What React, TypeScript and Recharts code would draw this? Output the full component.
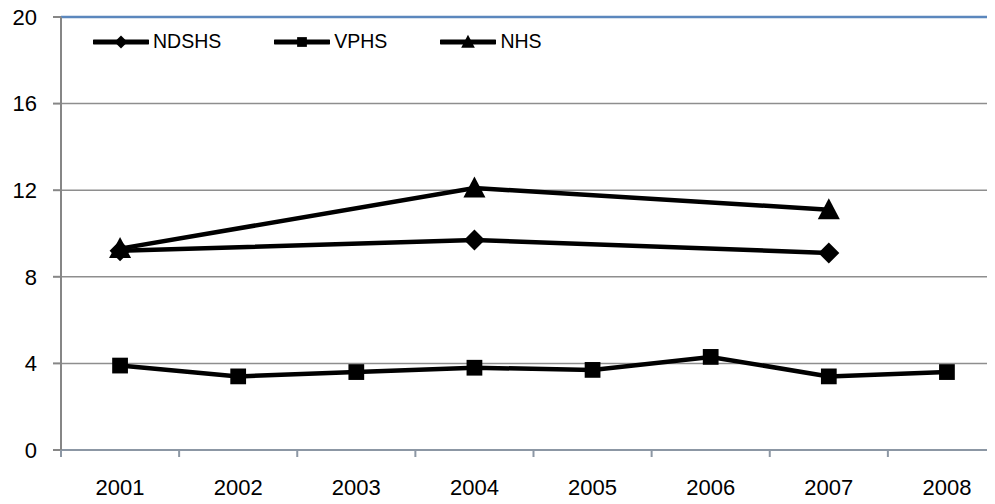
import { LineChart, Line, XAxis, YAxis, CartesianGrid, Legend, ReferenceLine } from "recharts";

const YEARS = ["2001", "2002", "2003", "2004", "2005", "2006", "2007", "2008"];
const NDSHS = [9.2, null, null, 9.7, null, null, 9.1, null];
const VPHS = [3.9, 3.4, 3.6, 3.8, 3.7, 4.3, 3.4, 3.6];
const NHS = [9.3, null, null, 12.1, null, null, 11.1, null];
const Y_TICKS = [0, 4, 8, 12, 16, 20];

const SERIES = [
  { key: "NDSHS", shape: "diamond" },
  { key: "VPHS", shape: "square" },
  { key: "NHS", shape: "triangle" },
];

const data = YEARS.map((year, i) => ({
  year,
  NDSHS: NDSHS[i],
  VPHS: VPHS[i],
  NHS: NHS[i],
}));

const W = 1010;
const H = 504;
const M = { top: 17, right: 4, bottom: 14, left: 0 };
const Y_W = 61;
const BAND = (W - M.right - Y_W) / YEARS.length;
const FONT = "'Liberation Sans', Arial, sans-serif";

const marker = (shape: string, cx: number, cy: number, s: number) => {
  if (shape === "diamond")
    return <polygon points={`${cx},${cy - s} ${cx + s},${cy} ${cx},${cy + s} ${cx - s},${cy}`} fill="#000" />;
  if (shape === "square")
    return <rect x={cx - s * 0.75} y={cy - s * 0.75} width={s * 1.5} height={s * 1.5} fill="#000" />;
  return <polygon points={`${cx},${cy - s * 1.1} ${cx + s * 1.05},${cy + s * 0.9} ${cx - s * 1.05},${cy + s * 0.9}`} fill="#000" />;
};

const makeDot = (shape: string) => (props: any) => {
  const { cx, cy, value, index } = props;
  if (value == null || cx == null || cy == null) return <g key={index} />;
  return <g key={index}>{marker(shape, cx, cy, 10.5)}</g>;
};

const XTick = (props: any) => {
  const { x, y, payload } = props;
  const left = x - BAND / 2;
  return (
    <g>
      <line x1={left} x2={left} y1={y} y2={y + 7} stroke="#8C97A4" strokeWidth={2} />
      <text x={x} y={y + 45} textAnchor="middle" fill="#000" fontSize={22} fontFamily={FONT}>
        {payload.value}
      </text>
    </g>
  );
};

const LegendBox = () => (
  <div style={{ display: "flex", alignItems: "center", fontFamily: FONT, fontSize: 19.5, color: "#000" }}>
    {SERIES.map((s) => (
      <div key={s.key} style={{ display: "flex", alignItems: "center", marginRight: 53 }}>
        <svg width={56} height={20}>
          <line x1={1} x2={55} y1={10} y2={10} stroke="#000" strokeWidth={5} strokeLinecap="round" />
          {marker(s.shape, 28, 10, 6.5)}
        </svg>
        <span style={{ marginLeft: 4 }}>{s.key}</span>
      </div>
    ))}
  </div>
);

export default function App() {
  return (
    <div style={{ margin: -8, width: 995, height: 504, overflow: "hidden", position: "relative", background: "#fff" }}>
      <style>{`html,body{overflow:hidden}`}</style>
      <LineChart width={W} height={H} data={data} margin={M}>
        <CartesianGrid horizontal vertical={false} stroke="#8E8E8E" strokeWidth={1.5} />
        <XAxis
          dataKey="year"
          scale="band"
          interval={0}
          tickLine={false}
          tickSize={0}
          tickMargin={0}
          height={40}
          axisLine={{ stroke: "#8C97A4", strokeWidth: 2 }}
          tick={<XTick />}
        />
        <YAxis
          domain={[0, 20]}
          ticks={Y_TICKS}
          width={Y_W}
          tickSize={8}
          tickMargin={16}
          axisLine={{ stroke: "#868686", strokeWidth: 2 }}
          tickLine={{ stroke: "#868686", strokeWidth: 2 }}
          tick={{ fill: "#000", fontSize: 22, fontFamily: FONT }}
        />
        <ReferenceLine y={20} stroke="#5B87BD" strokeWidth={2.5} />
        <Legend
          layout="horizontal"
          verticalAlign="middle"
          align="center"
          content={<LegendBox />}
          wrapperStyle={{ top: 30, left: 93, width: 600 }}
        />
        <Line dataKey="NDSHS" stroke="#000" strokeWidth={4.5} connectNulls dot={makeDot("diamond")} isAnimationActive={false} />
        <Line dataKey="VPHS" stroke="#000" strokeWidth={4.5} dot={makeDot("square")} isAnimationActive={false} />
        <Line dataKey="NHS" stroke="#000" strokeWidth={4.5} connectNulls dot={makeDot("triangle")} isAnimationActive={false} />
      </LineChart>
    </div>
  );
}
